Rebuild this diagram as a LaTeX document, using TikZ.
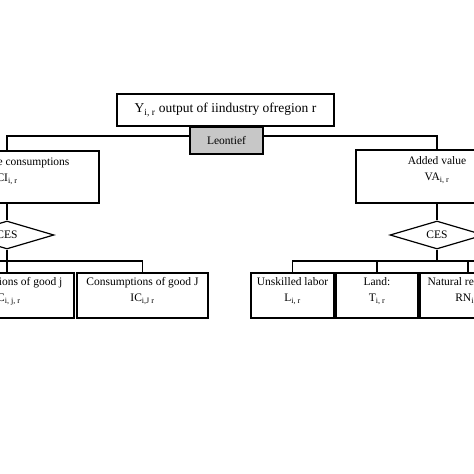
\documentclass[tikz,border=0pt]{standalone}
\usepackage{fontspec}
\setmainfont{Liberation Serif}
\usetikzlibrary{shapes.geometric}
\tikzset{
    box/.style={draw, fill=white, inner sep=0pt},
    ces/.style={draw, diamond, fill=white, inner sep=0pt, aspect=3.36,
        minimum width=94pt, minimum height=28pt},
    txt/.style={align=center, inner sep=0pt}
}
\newcommand{\sub}[1]{\textsubscript{#1}}

\begin{document}
\begin{tikzpicture}[x=1pt, y=-1pt, line width=1.2pt, font=\fontsize{11.5}{13}\selectfont]
        \useasboundingbox (0,0) rectangle (474,474);
        \clip (0,0) rectangle (474,474);
        % output and Leontief
        \node[box, minimum width=217pt, minimum height=32pt, font=\fontsize{13.5}{15}\selectfont] (out) at (225.5,110) {Y\sub{i, r} output of iindustry ofregion r};
        \node[box, fill=black!22, minimum width=73pt, minimum height=27pt] (leon) at (226.5,140.5) {Leontief};
        % second level
        \node[box, minimum width=184pt, minimum height=52pt] (ic) at (7,177) {};
        \node[txt] (ictext) at ([yshift=6pt]ic.center) {Intermediate consumptions\\[3pt]CI\sub{i, r}};
        \node[box, minimum width=162pt, minimum height=53pt] (va) at (437,176.5) {};
        \node[txt] (vatext) at ([yshift=6pt]va.center) {Added value\\[3pt]VA\sub{i, r}};
        % CES
        \node[ces] (cesl) at (7,235) {CES};
        \node[ces] (cesr) at (437,235) {CES};
        % bottom boxes
        \node[box, minimum width=134pt, minimum height=45pt] (goodj) at (7,295.5) {};
        \node[txt] (goodjtext) at ([yshift=4.5pt]goodj.center) {Consumptions of good j\\[3pt]IC\sub{i, j, r}};
        \node[box, minimum width=131pt, minimum height=45pt] (goodJ) at (142.5,295.5) {};
        \node[txt] (goodJtext) at ([yshift=4.5pt]goodJ.center) {Consumptions of good J\\[3pt]IC\sub{i,J r}};
        \node[box, minimum width=83pt, minimum height=45pt] (lab) at (292.5,295.5) {};
        \node[txt] (labtext) at ([yshift=4.5pt]lab.center) {Unskilled labor\\[3pt]L\sub{i, r}};
        \node[box, minimum width=82pt, minimum height=45pt] (land) at (377,295.5) {};
        \node[txt] (landtext) at ([yshift=4.5pt]land.center) {Land:\\[3pt]T\sub{i, r}};
        \node[box, minimum width=96pt, minimum height=45pt] (nat) at (468,295.5) {};
        \node[txt] (nattext) at ([yshift=4.5pt]nat.center) {Natural resources\\[3pt]RN\sub{i, r}};
        % buses
        \coordinate (busl) at (7,261);
        \coordinate (buslend) at (-60,261);
        \coordinate (busr) at (437,261);
        \coordinate (busrend) at (520,261);
        % connectors
        \draw ([yshift=4.5pt]leon.west) -| (ic.north);
        \draw ([yshift=4.5pt]leon.east) -| (va.north);
        \draw (ic.south) -- (cesl.north);
        \draw (va.south) -- (cesr.north);
        \draw (cesl.south) -- (busl) -- (goodj.north);
        \draw (buslend) -| (goodJ.north);
        \draw (cesr.south) -- (busr);
        \draw (lab.north) |- (busrend);
        \draw (land.north) -- (land.north |- busr);
        \draw (nat.north) -- (nat.north |- busr);
\end{tikzpicture}
\end{document}
